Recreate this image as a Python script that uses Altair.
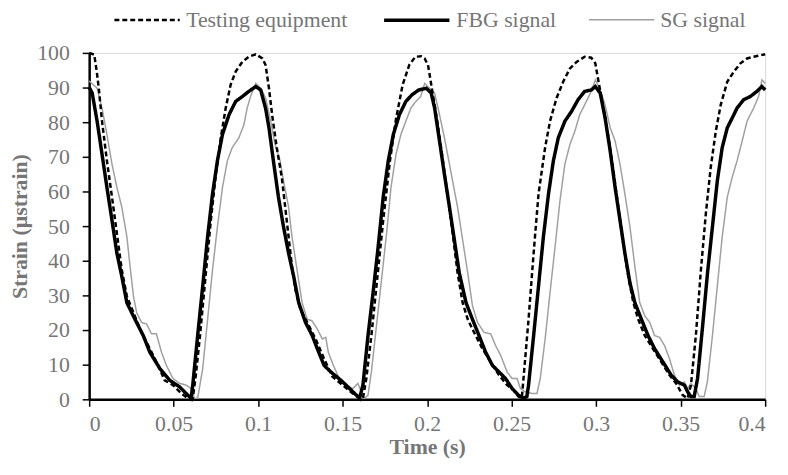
import altair as alt
import pandas as pd

SERIES = ["Testing equipment", "FBG signal", "SG signal"]
X_TICKS = [0, 0.05, 0.1, 0.15, 0.2, 0.25, 0.3, 0.35, 0.4]
Y_TICKS = [0, 10, 20, 30, 40, 50, 60, 70, 80, 90, 100]

te_t = [0, 0.003, 0.0045, 0.0057, 0.0076, 0.0105, 0.0135, 0.0164, 0.0193, 0.0223, 0.0262, 0.031, 0.0359,
        0.0408, 0.0447, 0.0496, 0.0545, 0.0584, 0.0613, 0.0629, 0.0656, 0.0687, 0.072, 0.075, 0.0779, 0.0808,
        0.0837, 0.0867, 0.0906, 0.0945, 0.0986, 0.1025, 0.1044, 0.1064, 0.1083, 0.111, 0.114, 0.116, 0.118,
        0.120, 0.122, 0.125, 0.129, 0.134, 0.139, 0.144, 0.150, 0.156, 0.160, 0.162, 0.164, 0.167, 0.170,
        0.174, 0.178, 0.1816, 0.1855, 0.1894, 0.193, 0.1965, 0.1985, 0.2005, 0.2015, 0.2034, 0.2063, 0.2093,
        0.2122, 0.2151, 0.218, 0.221, 0.224, 0.2278, 0.2327, 0.2376, 0.2425, 0.2473, 0.2512, 0.254, 0.256,
        0.257, 0.260, 0.263, 0.2659, 0.2698, 0.2727, 0.2766, 0.2805, 0.2845, 0.2884, 0.2932, 0.2971, 0.2995,
        0.3014, 0.3043, 0.3073, 0.3102, 0.3131, 0.316, 0.319, 0.322, 0.3249, 0.3288, 0.3336, 0.3385, 0.3434,
        0.3473, 0.3512, 0.3541, 0.3561, 0.359, 0.362, 0.3649, 0.3678, 0.3708, 0.3737, 0.3776, 0.3815, 0.3854,
        0.3893, 0.3932, 0.3971, 0.4]
te_v = [100, 99.5, 94.6, 89.8, 80.3, 68.9, 58.4, 47.9, 37.4, 29.8, 25.0, 19.3, 14.6,
        9.8, 5.5, 4.1, 1.7, 0.3, 0.3, 6.0, 18.4, 34.6, 51.7, 65.0, 75.5, 84.1,
        90.8, 94.6, 97.4, 98.9, 99.6, 98.4, 96.5, 89.8, 82.0, 72.7, 64.0, 55.5, 47.0,
        38.4, 31.7, 26.0, 22.2, 17.4, 11.7, 6.5, 4.1, 1.7, 0.3, 0.3, 6.0, 18.4, 32.7,
        51.7, 68.9, 81.0, 90.8, 96.5, 98.9, 99.0, 98.4, 96.5, 93.6, 87.9, 79.3, 68.9,
        58.4, 47.9, 36.5, 27.9, 23.1, 19.3, 14.6, 10.8, 7.0, 4.1, 2.7, 0.8, 0.3,
        6.0, 23.1, 42.2, 59.3, 72.7, 80.3, 87.0, 91.7, 95.5, 97.4, 98.9, 98.6, 97.0,
        91.7, 84.1, 75.5, 66.0, 55.5, 45.0, 35.5, 27.9, 23.1, 18.4, 14.6, 10.8, 7.0,
        4.6, 1.2, 0.3, 4.1, 18.4, 37.4, 53.6, 67.0, 77.4, 85.0, 91.7, 94.6, 97.0,
        98.4, 98.9, 99.3, 99.6]

fbg_t = [0, 0.0018, 0.0047, 0.0076, 0.0105, 0.0135, 0.0164, 0.0193, 0.0223, 0.0271, 0.032, 0.0359, 0.0418,
         0.0476, 0.0535, 0.0584, 0.0603, 0.0613, 0.0642, 0.0672, 0.0701, 0.073, 0.0759, 0.0789, 0.0828, 0.0867,
         0.0906, 0.0945, 0.0986, 0.1015, 0.1044, 0.1064, 0.109, 0.112, 0.115, 0.118, 0.121, 0.124, 0.128,
         0.132, 0.135, 0.139, 0.143, 0.149, 0.152, 0.156, 0.159, 0.160, 0.162, 0.165, 0.168, 0.171, 0.174,
         0.177, 0.180, 0.1836, 0.1874, 0.191, 0.195, 0.1995, 0.2024, 0.2044, 0.2073, 0.2102, 0.2132, 0.2161,
         0.219, 0.223, 0.2268, 0.2307, 0.2346, 0.2386, 0.2425, 0.2464, 0.2503, 0.254, 0.257, 0.259, 0.260,
         0.263, 0.2659, 0.2688, 0.2718, 0.2747, 0.2776, 0.2815, 0.2854, 0.2893, 0.2932, 0.2971, 0.2995,
         0.3024, 0.3053, 0.3083, 0.3112, 0.3141, 0.317, 0.32, 0.3229, 0.3268, 0.3307, 0.3346, 0.3395, 0.3444,
         0.3483, 0.3522, 0.3541, 0.356, 0.358, 0.36, 0.363, 0.3659, 0.3688, 0.3717, 0.3746, 0.3776, 0.3805,
         0.3834, 0.3873, 0.3912, 0.3951, 0.3981, 0.4]
fbg_v = [90.1, 88.4, 80.3, 70.8, 61.2, 51.7, 42.2, 35.5, 27.9, 23.1, 18.4, 13.6, 8.9,
         5.5, 3.6, 1.2, 0.3, 4.1, 18.4, 32.7, 47.0, 59.3, 68.9, 76.5, 82.2, 86.0,
         87.4, 88.9, 90.3, 89.3, 84.0, 78.4, 68.9, 58.4, 49.8, 42.2, 35.5, 27.9, 22.2,
         18.4, 14.6, 9.8, 7.9, 5.5, 4.1, 2.2, 0.8, 0.3, 4.1, 18.4, 30.8, 44.0, 58.4,
         68.9, 76.5, 82.2, 86.0, 87.9, 89.3, 89.8, 88.4, 84.1, 74.6, 65.0, 55.5, 46.0,
         36.5, 27.9, 23.1, 18.4, 13.6, 9.8, 7.9, 6.0, 3.1, 1.2, 0.3, 0.8, 4.1,
         18.4, 32.7, 47.0, 59.3, 68.9, 75.5, 80.3, 83.1, 86.5, 88.9, 89.3, 90.3,
         88.4, 81.2, 71.7, 61.2, 51.7, 42.2, 33.6, 27.9, 23.1, 18.4, 14.6, 10.8, 7.0,
         5.0, 4.1, 2.2, 0.8, 0.8, 6.0, 21.2, 36.5, 49.8, 63.1, 72.7, 78.4, 81.2,
         84.1, 86.5, 87.4, 88.9, 90.3, 89.3]

sg_t = [0, 0.0047, 0.0076, 0.0105, 0.0135, 0.0164, 0.0193, 0.0223, 0.0242, 0.0262, 0.0281, 0.031, 0.034,
        0.0369, 0.0398, 0.0428, 0.0457, 0.0496, 0.0535, 0.0574, 0.0603, 0.0623, 0.0642, 0.0672, 0.0701, 0.073,
        0.0759, 0.0789, 0.0818, 0.0847, 0.0886, 0.0916, 0.0935, 0.0955, 0.0986, 0.1015, 0.1044, 0.1074,
        0.110, 0.113, 0.115, 0.118, 0.120, 0.123, 0.126, 0.129, 0.1318, 0.135, 0.138, 0.140, 0.1415, 0.1445,
        0.148, 0.152, 0.156, 0.159, 0.161, 0.163, 0.165, 0.167, 0.170, 0.173, 0.176, 0.1786, 0.1816, 0.1845,
        0.1874, 0.1904, 0.1933, 0.1962, 0.1985, 0.2015, 0.2044, 0.2073, 0.2102, 0.2132, 0.2161, 0.218, 0.221,
        0.224, 0.2268, 0.2298, 0.2337, 0.2376, 0.2405, 0.2435, 0.2473, 0.2503, 0.2532, 0.2552, 0.258, 0.262,
        0.265, 0.2669, 0.2698, 0.2727, 0.2757, 0.2786, 0.2815, 0.2845, 0.2874, 0.2903, 0.2942, 0.2971,
        0.2995, 0.3024, 0.3053, 0.3083, 0.3112, 0.3141, 0.317, 0.32, 0.3229, 0.3258, 0.3288, 0.3317, 0.3346,
        0.3375, 0.3405, 0.3434, 0.3463, 0.3493, 0.3522, 0.3541, 0.356, 0.359, 0.361, 0.3639, 0.3658, 0.3688,
        0.3717, 0.3746, 0.3776, 0.3805, 0.3834, 0.3864, 0.3893, 0.3932, 0.3961, 0.3981, 0.4]
sg_v = [91.9, 89.8, 84.1, 76.5, 67.9, 61.2, 55.5, 47.0, 38.4, 29.8, 25.0, 22.2, 21.7,
        18.9, 18.9, 13.6, 9.8, 6.0, 4.6, 4.1, 3.1, 0.3, 0.3, 8.9, 23.1, 37.4,
        49.8, 61.2, 68.9, 72.7, 75.5, 79.3, 84.1, 87.4, 91.2, 89.8, 87.0, 80.3,
        73.6, 68.9, 63.0, 55.5, 47.0, 37.4, 27.9, 23.1, 22.7, 20.3, 17.4, 17.9, 13.6, 9.8,
        6.0, 4.1, 3.1, 4.6, 2.2, 0.3, 1.2, 7.9, 21.2, 34.6, 47.9, 61.2, 70.8, 76.5,
        80.3, 84.1, 86.0, 87.4, 91.2, 89.8, 88.4, 82.2, 75.5, 67.9, 60.3, 55.5, 46.0,
        36.5, 27.0, 22.2, 19.3, 18.9, 15.5, 12.7, 7.9, 6.0, 6.0, 3.1, 2.2, 1.7,
        1.7, 6.0, 17.4, 30.8, 44.1, 57.4, 67.9, 73.6, 77.4, 82.2, 86.0, 88.9,
        92.2, 89.3, 85.0, 78.4, 74.6, 67.9, 59.3, 49.8, 38.4, 27.9, 24.1, 22.2, 18.4,
        17.9, 15.5, 11.7, 7.0, 4.1, 5.0, 3.1, 4.6, 3.1, 0.8, 0.8, 5.0, 18.4,
        32.7, 47.0, 58.4, 64.1, 68.9, 74.6, 80.3, 84.1, 87.4, 92.2, 91.2]

frames = []
for name, ts, vs in [("SG signal", sg_t, sg_v), ("FBG signal", fbg_t, fbg_v),
                     ("Testing equipment", te_t, te_v)]:
    frames.append(pd.DataFrame({"t": ts, "v": vs, "series": name, "idx": list(range(len(ts)))}))
df = pd.concat(frames, ignore_index=True)

FONT = "Liberation Serif"
GRAY = "#767676"

legend = alt.Legend(
    title=None, orient="none", legendX=24, legendY=-68, direction="horizontal",
    symbolType="stroke", symbolSize=4356, labelOffset=5, columnPadding=30,
    labelFont=FONT, labelFontSize=22, labelColor=GRAY, labelLimit=300,
)

chart = alt.Chart(df).mark_line().encode(
    x=alt.X("t:Q", scale=alt.Scale(domain=[0, 0.4], nice=False),
            axis=alt.Axis(values=X_TICKS, format="~g", title="Time (s)", labelPadding=8,
                          titlePadding=2)),
    y=alt.Y("v:Q", scale=alt.Scale(domain=[0, 100], nice=False),
            axis=alt.Axis(values=Y_TICKS, title="Strain (µstrain)", labelPadding=13,
                          titlePadding=5)),
    color=alt.Color("series:N", scale=alt.Scale(domain=SERIES, range=["#000000", "#000000", "#a0a0a0"]),
                    legend=legend),
    strokeDash=alt.StrokeDash("series:N", scale=alt.Scale(domain=SERIES, range=[[5, 3], [1, 0], [1, 0]]),
                              legend=legend),
    strokeWidth=alt.StrokeWidth("series:N", scale=alt.Scale(type="ordinal", domain=SERIES, range=[2.5, 3.5, 1.5]),
                                legend=legend),
    order="idx:Q",
).properties(
    width=683, height=350,
    padding={"left": 82, "top": 43, "right": 15, "bottom": 65},
    autosize=alt.AutoSizeParams(type="none"),
).configure_view(
    stroke="#d9d9d9", strokeWidth=1
).configure_axis(
    grid=False, domainColor="#000000", domainWidth=2.5, tickColor="#000000", tickWidth=1.5, tickSize=7,
    labelFont=FONT, labelFontSize=22, labelColor=GRAY,
    titleFont=FONT, titleFontSize=22, titleFontWeight="bold", titleColor=GRAY,
)

chart.save("out.html", embed_options={"renderer": "svg", "actions": False})
